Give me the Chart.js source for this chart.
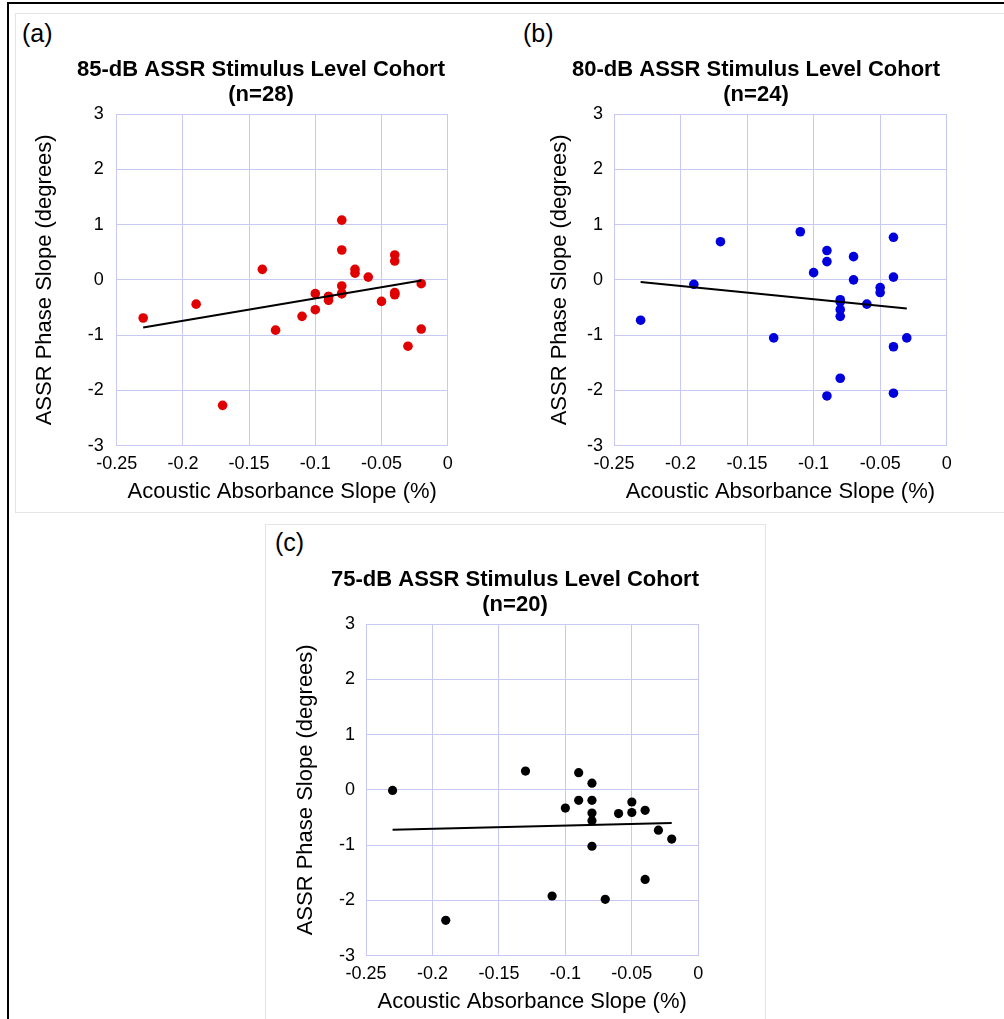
<!DOCTYPE html>
<html>
<head>
<meta charset="utf-8">
<script src="https://cdn.jsdelivr.net/npm/chart.js@4.4.0/dist/chart.umd.min.js"></script>
<style>
html,body{margin:0;padding:0;background:#fff;}
body{width:1004px;height:1019px;position:relative;overflow:hidden;font-family:"Liberation Sans",Arial,sans-serif;}
.frameTop{position:absolute;left:7px;top:2px;width:997px;height:2px;background:#000;}
.frameLeft{position:absolute;left:7px;top:2px;width:2px;height:1017px;background:#000;}
.box{position:absolute;border:1px solid #e4e4e4;box-sizing:border-box;}
.lbl{position:absolute;font-size:25px;line-height:25px;color:#000;white-space:nowrap;}
canvas{position:absolute;}
</style>
</head>
<body>
<div class="box" style="left:15px;top:13px;width:1000px;height:500px;"></div>
<div class="box" style="left:265px;top:524px;width:501px;height:520px;"></div>
<div class="frameTop"></div>
<div class="frameLeft"></div>
<div class="lbl" style="left:22px;top:21px;">(a)</div>
<div class="lbl" style="left:523px;top:21px;">(b)</div>
<div class="lbl" style="left:275px;top:530px;">(c)</div>
<canvas id="ca" width="482" height="498" style="left:20px;top:14px;"></canvas>
<canvas id="cb" width="422" height="498" style="left:545px;top:14px;"></canvas>
<canvas id="cc" width="450" height="495" style="left:290px;top:524px;"></canvas>
<script>
// ---- data ----
const xTickValues = [-0.25, -0.2, -0.15, -0.1, -0.05, 0];
const xTickLabels = ['-0.25', '-0.2', '-0.15', '-0.1', '-0.05', '0'];
const yTickValues = [-3, -2, -1, 0, 1, 2, 3];
const yTickLabels = ['-3', '-2', '-1', '0', '1', '2', '3'];
const xAxisTitle = 'Acoustic Absorbance Slope (%)';
const yAxisTitle = 'ASSR Phase Slope (degrees)';

const aTitle = ['85-dB ASSR Stimulus Level Cohort', '(n=28)'];
const aX = [-0.23, -0.19, -0.17, -0.14, -0.13, -0.11, -0.10, -0.10, -0.09, -0.09, -0.08, -0.08, -0.08, -0.08, -0.07, -0.07, -0.06, -0.05, -0.04, -0.04, -0.04, -0.04, -0.03, -0.02, -0.02, -0.09, -0.08, -0.04];
const aY = [-0.69, -0.44, -2.27, 0.19, -0.91, -0.66, -0.25, -0.54, -0.30, -0.37, 1.08, 0.54, -0.11, -0.25, 0.19, 0.12, 0.05, -0.39, 0.45, 0.34, -0.23, -0.27, -1.20, -0.07, -0.89, -0.30, -0.25, -0.25];
const aFitX = [-0.23, -0.02];
const aFitY = [-0.86, -0.01];

const bTitle = ['80-dB ASSR Stimulus Level Cohort', '(n=24)'];
const bX = [-0.23, -0.19, -0.17, -0.13, -0.11, -0.10, -0.09, -0.09, -0.09, -0.08, -0.08, -0.08, -0.08, -0.07, -0.07, -0.06, -0.05, -0.05, -0.04, -0.04, -0.04, -0.04, -0.03, -0.08];
const bY = [-0.73, -0.08, 0.69, -1.05, 0.87, 0.13, 0.53, 0.33, -2.10, -0.36, -0.54, -0.66, -1.78, 0.42, 0.00, -0.44, -0.14, -0.23, 0.77, 0.05, -1.21, -2.05, -1.05, -0.40];
const bFitX = [-0.23, -0.03];
const bFitY = [-0.04, -0.52];

const cTitle = ['75-dB ASSR Stimulus Level Cohort', '(n=20)'];
const cX = [-0.23, -0.19, -0.13, -0.11, -0.10, -0.09, -0.09, -0.08, -0.08, -0.08, -0.08, -0.08, -0.07, -0.06, -0.05, -0.05, -0.04, -0.04, -0.03, -0.02];
const cY = [-0.01, -2.36, 0.34, -1.92, -0.33, 0.31, -0.19, 0.12, -0.19, -0.42, -0.56, -1.02, -1.98, -0.43, -0.22, -0.41, -0.37, -1.62, -0.73, -0.89];
const cFitX = [-0.23, -0.02];
const cFitY = [-0.72, -0.60];

// ---- styles / layout ----
const FONT = "'Liberation Sans', Arial, sans-serif";
const GRID = '#c8c8f4';
const layoutA = {yAxisW: 96.7, rightW: 54.3, xAxisH: 66.3, yTitlePad: 11.8, yTickPad: 13, xTitlePadB: 6.8, color: '#e00000', radius: 4.8};
const layoutB = {yAxisW: 69, rightW: 20.3, xAxisH: 66.3, yTitlePad: 1.8, yTickPad: 11, xTitlePadB: 6.8, color: '#0000dc', radius: 4.8};
const layoutC = {yAxisW: 76, rightW: 41.7, xAxisH: 63.3, yTitlePad: 2.8, yTickPad: 11, xTitlePadB: 3.8, color: '#000000', radius: 4.6};

function makeChart(canvasId, L, titleLines, xs, ys, fitX, fitY) {
  const pts = xs.map((x, i) => ({x: x, y: ys[i]}));
  const fit = fitX.map((x, i) => ({x: x, y: fitY[i]}));
  return new Chart(document.getElementById(canvasId), {
    type: 'scatter',
    data: {
      datasets: [
        {type: 'line', data: fit, borderColor: '#000', borderWidth: 2, pointRadius: 0, fill: false, xAxisID: 'x', yAxisID: 'y'},
        {type: 'scatter', data: pts, backgroundColor: L.color, borderColor: L.color, borderWidth: 0, pointRadius: L.radius, pointHoverRadius: L.radius, xAxisID: 'x', yAxisID: 'y'}
      ]
    },
    options: {
      responsive: false,
      animation: false,
      devicePixelRatio: 1,
      layout: {padding: 0},
      events: [],
      plugins: {
        legend: {display: false},
        tooltip: {enabled: false},
        title: {
          display: true, text: titleLines, color: '#000',
          font: {family: FONT, size: 22, weight: 'bold', lineHeight: 25 / 22},
          padding: {top: 43.5, bottom: 6.5}
        }
      },
      scales: {
        x: {
          type: 'linear', position: 'bottom', min: -0.25, max: 0,
          afterBuildTicks: s => { s.ticks = xTickValues.map(v => ({value: v})); },
          ticks: {callback: (v, i) => xTickLabels[i], font: {family: FONT, size: 18}, color: '#000', padding: 7.5, maxRotation: 0, autoSkip: false},
          grid: {color: GRID, lineWidth: 1, drawTicks: false},
          border: {color: GRID, width: 1},
          title: {display: true, text: xAxisTitle, color: '#000', font: {family: FONT, size: 22, lineHeight: 1.2}, padding: {top: 0, bottom: L.xTitlePadB}},
          afterFit: s => { s.height = L.xAxisH; }
        },
        y: {
          type: 'linear', position: 'left', min: -3, max: 3,
          afterBuildTicks: s => { s.ticks = yTickValues.map(v => ({value: v})); },
          ticks: {callback: (v, i) => yTickLabels[i], font: {family: FONT, size: 18}, color: '#000', padding: L.yTickPad, autoSkip: false},
          grid: {color: GRID, lineWidth: 1, drawTicks: false},
          border: {color: GRID, width: 1},
          title: {display: true, text: yAxisTitle, color: '#000', font: {family: FONT, size: 22, lineHeight: 1.2}, padding: {top: L.yTitlePad, bottom: 0}},
          afterFit: s => { s.width = L.yAxisW; }
        },
        y2: {
          type: 'linear', position: 'right', display: true,
          ticks: {display: false},
          grid: {display: false, drawTicks: false},
          border: {display: false},
          title: {display: false},
          afterFit: s => { s.width = L.rightW; }
        }
      }
    }
  });
}

makeChart('ca', layoutA, aTitle, aX, aY, aFitX, aFitY);
makeChart('cb', layoutB, bTitle, bX, bY, bFitX, bFitY);
makeChart('cc', layoutC, cTitle, cX, cY, cFitX, cFitY);
</script>
</body>
</html>
